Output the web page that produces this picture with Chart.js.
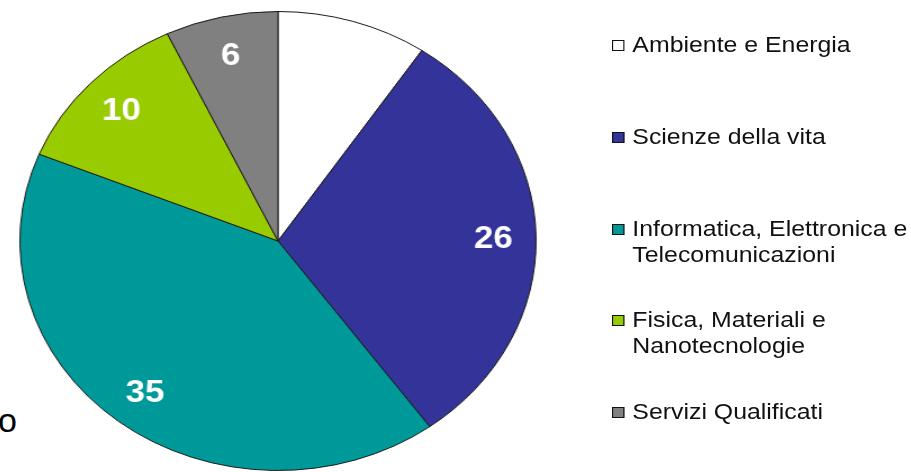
<!DOCTYPE html>
<html>
<head>
<meta charset="utf-8">
<script src="https://cdn.jsdelivr.net/npm/chart.js@4"></script>
<style>
  html, body { margin: 0; padding: 0; background: #fff; }
  body { width: 911px; height: 472px; position: relative; overflow: hidden; font-family: "Liberation Sans", Arial, sans-serif; }
  #pieWrap { position: absolute; left: 47.5px; top: 11px; width: 460px; height: 460px; transform: scaleX(1.1245); transform-origin: 230px 230px; }
  #legend { position: absolute; left: 612px; top: 0; transform: scaleX(1.13); transform-origin: 0 0; }
  .item { position: absolute; left: 0; white-space: nowrap; font-size: 22px; line-height: 26px; color: #111; }
  .box { position: absolute; left: 0; top: 8px; width: 9px; height: 9px; border: 1px solid #111; }
  .txt { position: absolute; left: 18px; top: 0; }
  #stray { position: absolute; left: -2px; top: 401px; font-size: 34px; color: #000; }
</style>
</head>
<body>
<div id="pieWrap"><canvas id="pieChart"></canvas></div>
<div id="legend"></div>
<div id="stray">o</div>
<script>
// Settori e numero di progetti
const categories = ['Ambiente e Energia', 'Scienze della vita', 'Informatica, Elettronica e Telecomunicazioni', 'Fisica, Materiali e Nanotecnologie', 'Servizi Qualificati'];
const legendLines = [['Ambiente e Energia'], ['Scienze della vita'], ['Informatica, Elettronica e', 'Telecomunicazioni'], ['Fisica, Materiali e', 'Nanotecnologie'], ['Servizi Qualificati']];
const values = [8, 26, 35, 10, 6];
const colors = ['#ffffff', '#333399', '#009999', '#99cc00', '#808080'];

// etichette bianche dentro le fette
const sliceLabels = {
    id: 'sliceLabels',
    afterDatasetsDraw(chart) {
        const ctx = chart.ctx;
        const meta = chart.getDatasetMeta(0);
        ctx.save();
        ctx.fillStyle = '#ffffff';
        ctx.font = 'bold 31px "Liberation Sans", Arial, sans-serif';
        ctx.textAlign = 'center';
        ctx.textBaseline = 'middle';
        meta.data.forEach((arc, i) => {
            const mid = (arc.startAngle + arc.endAngle) / 2;
            const r = arc.outerRadius * 0.835;
            ctx.fillText(String(values[i]), arc.x + Math.cos(mid) * r, arc.y + Math.sin(mid) * r + 2);
        });
        ctx.restore();
    }
};

const pieCtx = document.getElementById('pieChart').getContext('2d');
const pieChart = new Chart(pieCtx, {
    type: 'pie',
    data: {
        labels: categories,
        datasets: [{
            data: values,
            backgroundColor: colors,
            borderColor: '#1a1a1a',
            borderWidth: 1
        }]
    },
    options: {
        responsive: true,
        maintainAspectRatio: false,
        animation: false,
        layout: { padding: 0 },
        plugins: {
            legend: { display: false },
            tooltip: { enabled: false }
        }
    },
    plugins: [sliceLabels]
});

// legenda a destra
const legend = document.getElementById('legend');
legendLines.forEach((lines, i) => {
    const item = document.createElement('div');
    item.className = 'item';
    item.style.top = (32 + i * 91.8) + 'px';
    const box = document.createElement('div');
    box.className = 'box';
    box.style.background = colors[i];
    const txt = document.createElement('div');
    txt.className = 'txt';
    txt.innerHTML = lines.join('<br>');
    item.appendChild(box);
    item.appendChild(txt);
    legend.appendChild(item);
});
</script>
</body>
</html>
